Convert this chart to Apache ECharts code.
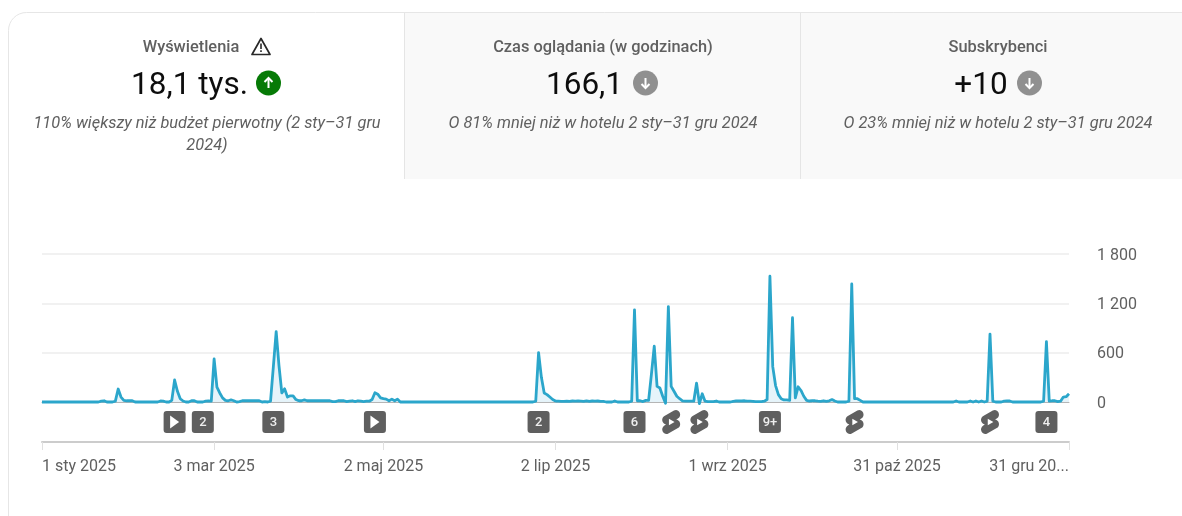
<!DOCTYPE html>
<html><head><meta charset="utf-8">
<style>html,body{margin:0;padding:0;background:#fff}#c{width:1182px;height:516px}</style>
<script src="https://cdn.jsdelivr.net/npm/echarts@6/dist/echarts.min.js"></script>
</head><body><div id="c"></div>
<script>
const dailyViews = [
0,0,0,0,0,0,0,0,0,0,
0,0,0,0,0,0,0,0,0,0,
0,10,15,0,0,0,10,158,60,20,
15,15,15,0,0,0,0,0,0,0,
0,0,12,10,0,0,20,268,130,40,
12,0,0,15,15,0,0,0,10,12,
10,523,180,110,50,20,15,25,15,0,
5,15,15,15,15,15,15,15,0,5,
0,10,430,855,440,110,160,60,75,75,
30,15,15,25,15,15,15,15,15,15,
15,15,15,5,5,15,15,15,5,10,
15,5,15,10,5,10,10,30,113,95,
50,40,35,15,35,15,35,0,0,0,
0,0,0,0,0,0,0,0,0,0,
0,0,0,0,0,0,0,0,0,0,
0,0,0,0,0,0,0,0,0,0,
0,0,0,0,0,0,0,0,0,0,
0,0,0,0,0,10,600,300,110,90,
60,30,12,10,8,8,10,8,12,10,
12,10,8,14,8,12,10,12,8,8,
0,0,0,12,0,0,0,0,0,10,
1120,15,15,5,20,20,340,680,190,170,
70,-15,1160,190,130,70,40,15,10,10,
10,10,230,-20,100,10,5,5,5,12,
0,0,0,0,0,8,12,12,12,15,
10,10,8,5,5,5,10,30,1530,430,
200,90,40,25,25,20,1025,50,185,140,
70,20,12,15,15,10,8,15,8,15,
30,12,0,0,0,0,10,1435,40,40,
20,0,0,0,0,0,0,0,0,0,
0,0,0,0,0,0,0,0,0,0,
0,0,0,0,0,0,0,0,0,0,
0,0,0,0,12,0,0,0,0,12,
0,12,0,12,0,10,825,10,0,0,
0,10,12,12,0,0,0,0,0,0,
0,0,0,0,0,10,735,10,15,15,
5,10,60,65,100
];
const dayIndex = dailyViews.map((_, i) => i);
const tickDays = [0, 61, 121, 182, 243, 303, 364];
const tickLabels = ['1 sty 2025', '3 mar 2025', '2 maj 2025', '2 lip 2025', '1 wrz 2025', '31 paź 2025', '31 gru 20...'];
const yTicks = [0, 600, 1200, 1800];
const yTickLabels = ['0', '600', '1 200', '1 800'];
const badgeDays = [47, 57, 82, 118, 176, 210, 258, 356];
const badgeTexts = ['', '2', '3', '', '2', '6', '9+', '4'];
const playDays = [47, 118];
const shortsDays = [223, 233, 288, 336];
const cardTitles = ['Wyświetlenia', 'Czas oglądania (w godzinach)', 'Subskrybenci'];
const cardValues = ['18,1 tys.', '166,1', '+10'];
const cardNotes = ['110% większy niż budżet pierwotny (2 sty–31 gru\n2024)', 'O 81% mniej niż w hotelu 2 sty–31 gru 2024', 'O 23% mniej niż w hotelu 2 sty–31 gru 2024'];

const font = 'Roboto';
const grey = '#606060';
const shortsPath = 'path://M17.77 10.32c-.77-.32-1.2-.5-1.2-.5L18 9.06c1.84-.96 2.53-3.23 1.56-5.06s-3.24-2.53-5.07-1.56L6 6.94c-1.29.68-2.07 2.04-2 3.49.07 1.42.93 2.67 2.22 3.25.03.01 1.2.5 1.2.5L6 14.93c-1.83.97-2.53 3.24-1.56 5.07.97 1.83 3.24 2.53 5.07 1.56l8.5-4.5c1.29-.68 2.06-2.04 1.99-3.49-.07-1.42-.94-2.68-2.23-3.25zM10 14.65v-5.3L15 12l-5 2.65z';
const badgePath = 'path://M3 0H19A3 3 0 0 1 22 3V19A3 3 0 0 1 19 22H3A3 3 0 0 1 0 19V3A3 3 0 0 1 3 0Z';
const playPath = 'path://M0 0L10 7L0 14Z';

function txt(x, y, text, size, color, extra) {
  return {type: 'text', x, y, silent: true, z: 5, style: Object.assign({text, fontFamily: font, fontSize: size, fill: color, textAlign: 'center', textVerticalAlign: 'middle'}, extra || {})};
}
function badge(cx, cy, color, up) {
  const d = up ? -1 : 1;
  return [
    {type: 'circle', silent: true, z: 5, shape: {cx, cy, r: 12.5}, style: {fill: color}},
    {type: 'polyline', silent: true, z: 6, shape: {points: [[cx, cy - 5 * d], [cx, cy + 5 * d]]}, style: {stroke: '#fff', lineWidth: 2, fill: null}},
    {type: 'polyline', silent: true, z: 6, shape: {points: [[cx - 4, cy + 1 * d], [cx, cy + 5 * d], [cx + 4, cy + 1 * d]]}, style: {stroke: '#fff', lineWidth: 2, fill: null}}
  ];
}
const graphics = [
  {type: 'rect', silent: true, z: 1, shape: {x: 8.5, y: 12.5, width: 1300, height: 700, r: 18}, style: {fill: 'transparent', stroke: '#e6e6e6', lineWidth: 1}},
  {type: 'rect', silent: true, z: 2, shape: {x: 405, y: 13, width: 777, height: 166}, style: {fill: '#f9f9f9'}},
  {type: 'line', silent: true, z: 3, shape: {x1: 404.5, y1: 13, x2: 404.5, y2: 179}, style: {stroke: '#e5e5e5', lineWidth: 1}},
  {type: 'line', silent: true, z: 3, shape: {x1: 800.5, y1: 13, x2: 800.5, y2: 179}, style: {stroke: '#e5e5e5', lineWidth: 1}},
  txt(191, 48, cardTitles[0], 16.4, grey, {fontWeight: 500}),
  {type: 'polygon', silent: true, z: 5, shape: {points: [[261, 38.5], [270, 54.5], [252, 54.5]]}, style: {fill: '#fff', stroke: '#282828', lineWidth: 1.7, lineJoin: 'round'}},
  {type: 'rect', silent: true, z: 6, shape: {x: 260.2, y: 43.5, width: 1.6, height: 5.5}, style: {fill: '#282828'}},
  {type: 'rect', silent: true, z: 6, shape: {x: 260.2, y: 50.2, width: 1.6, height: 1.7}, style: {fill: '#282828'}},
  txt(189.5, 86.5, cardValues[0], 31.5, '#0d0d0d'),
  ...badge(268.5, 83, '#067a06', true),
  txt(207, 135, cardNotes[0], 16.4, grey, {fontStyle: 'italic', lineHeight: 22}),
  txt(603, 48, cardTitles[1], 16.4, grey, {fontWeight: 500}),
  txt(584.5, 86.5, cardValues[1], 31.5, '#0d0d0d'),
  ...badge(645.5, 83, '#909090', false),
  txt(603, 124, cardNotes[1], 16.4, grey, {fontStyle: 'italic'}),
  txt(998, 48, cardTitles[2], 16.4, grey, {fontWeight: 500}),
  txt(981, 86.5, cardValues[2], 31.5, '#0d0d0d'),
  ...badge(1029.5, 83, '#909090', false),
  txt(998, 124, cardNotes[2], 16.4, grey, {fontStyle: 'italic'})
];

const chart = echarts.init(document.getElementById('c'));
chart.setOption({
  animation: false,
  backgroundColor: '#fff',
  textStyle: {fontFamily: font},
  graphic: graphics,
  grid: [
    {left: 42, right: 113, top: 254, height: 148},
    {left: 42, right: 113, top: 412, height: 30}
  ],
  xAxis: [
    {type: 'category', gridIndex: 0, data: dayIndex, boundaryGap: false, z: 1,
     axisLine: {lineStyle: {color: '#b5b5b5', width: 1}}, axisTick: {show: false}, axisLabel: {show: false}, splitLine: {show: false}},
    {type: 'category', gridIndex: 1, data: dayIndex, boundaryGap: false,
     axisLine: {lineStyle: {color: '#cccccc', width: 2}},
     axisTick: {show: true, length: 8, interval: i => tickDays.includes(i), lineStyle: {color: '#e0e0e0', width: 1}},
     axisLabel: {show: true, interval: i => tickDays.includes(i), margin: 16.5, color: grey, fontSize: 16, fontFamily: font,
       alignMinLabel: 'left', alignMaxLabel: 'right', showMinLabel: true, showMaxLabel: true,
       formatter: v => tickLabels[tickDays.indexOf(Number(v))] || ''},
     splitLine: {show: false}}
  ],
  yAxis: [
    {type: 'value', gridIndex: 0, position: 'right', min: 0, max: 1800, interval: 600,
     axisLine: {show: false}, axisTick: {show: false},
     axisLabel: {margin: 28, color: grey, fontSize: 16, fontFamily: font, align: 'left', verticalAlign: 'middle',
       rich: {v: {fontSize: 16, fontFamily: font, color: grey, padding: [3, 0, 0, 0]}},
       formatter: v => '{v|' + yTickLabels[yTicks.indexOf(v)] + '}'},
     splitLine: {show: true, lineStyle: {color: '#ececec', width: 1.5}}},
    {type: 'value', gridIndex: 1, min: 0, max: 3, show: false, splitLine: {show: false}}
  ],
  series: [
    {type: 'line', name: 'Wyświetlenia', xAxisIndex: 0, yAxisIndex: 0, data: dailyViews, clip: false, z: 3,
     showSymbol: false, smooth: false,
     lineStyle: {color: '#2ba6cb', width: 2.8, join: 'round'},
     areaStyle: {color: '#e3f3f9', opacity: 0.9, origin: 0}},
    {type: 'scatter', name: 'Filmy', xAxisIndex: 1, yAxisIndex: 1, z: 4, symbol: badgePath, symbolSize: 22,
     itemStyle: {color: '#5f5f5f', opacity: 1},
     data: badgeDays.map((d, i) => ({value: [d, 2],
       label: {show: !!badgeTexts[i], position: 'inside', offset: [0, 1], formatter: badgeTexts[i], color: '#eee',
         fontSize: 13, fontWeight: 500, fontFamily: font}}))},
    {type: 'scatter', name: 'Odtwarzanie', xAxisIndex: 1, yAxisIndex: 1, z: 5, symbol: playPath, symbolSize: [9, 13],
     itemStyle: {color: '#fff', opacity: 1},
     data: playDays.map(d => [d, 2])},
    {type: 'scatter', name: 'Shorts', xAxisIndex: 1, yAxisIndex: 1, z: 4, symbol: shortsPath, symbolSize: [18, 24],
     symbolKeepAspect: false,
     itemStyle: {color: '#606060', opacity: 1},
     data: shortsDays.map(d => [d, 2])}
  ]
});
</script></body></html>
